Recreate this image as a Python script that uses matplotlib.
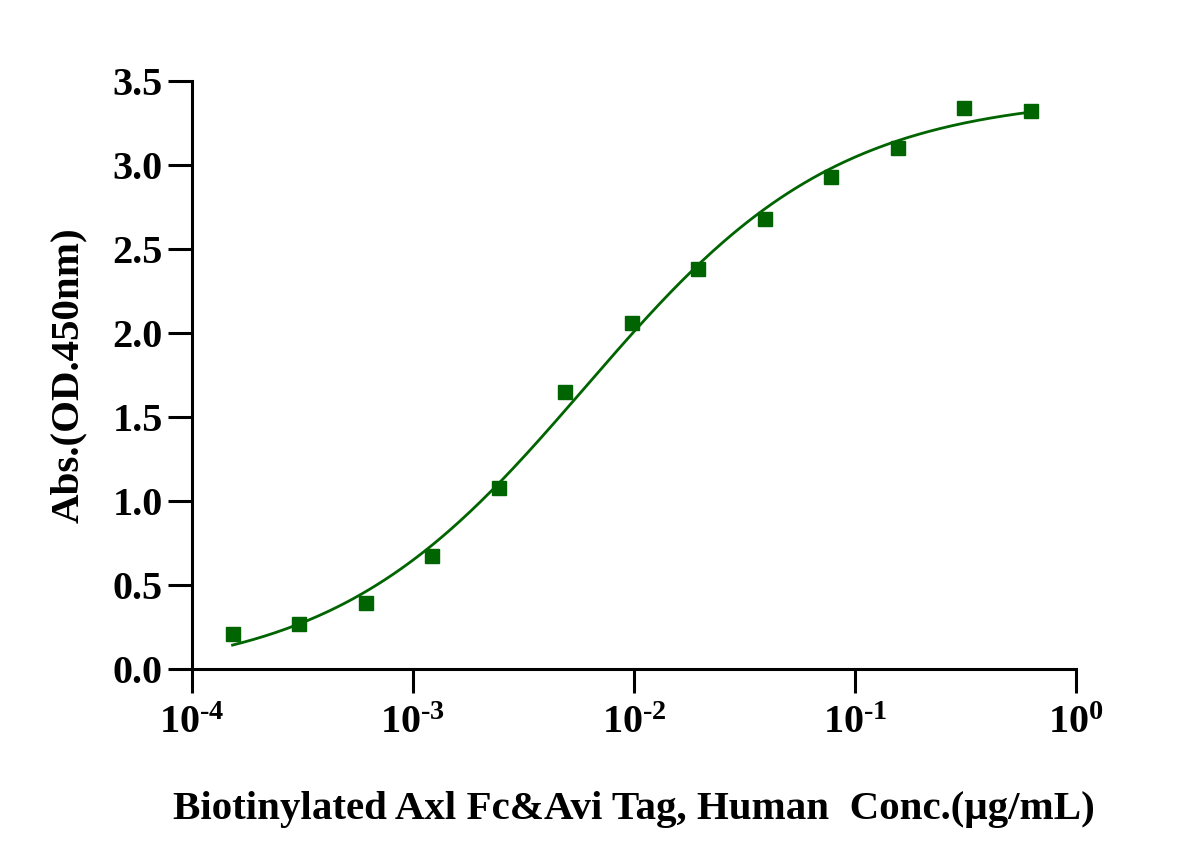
import matplotlib
matplotlib.use("Agg")
import matplotlib.pyplot as plt
import numpy as np
from matplotlib.ticker import FixedLocator, FuncFormatter, NullLocator

# concentrations (ug/mL), 2-fold dilution series
conc = [0.0001526, 0.0003052, 0.0006104, 0.001221, 0.002441, 0.004883,
        0.009766, 0.01953, 0.03906, 0.07813, 0.1563, 0.3125, 0.625]
od450 = [0.21, 0.27, 0.39, 0.67, 1.08, 1.65, 2.06, 2.38, 2.68, 2.93, 3.10, 3.34, 3.32]

x_ticks = [1e-4, 1e-3, 1e-2, 1e-1, 1e0]
y_ticks = [0.0, 0.5, 1.0, 1.5, 2.0, 2.5, 3.0, 3.5]

GREEN = "#006400"


def fit_4pl(x, y):
    # grid over log EC50 and hill slope, bottom/top solved by linear least squares
    lx = np.log10(x)
    best = None
    for log_ec50 in np.linspace(-4, 0, 401):
        for hill in np.linspace(0.3, 2.0, 171):
            g = 1.0 / (1.0 + 10 ** ((log_ec50 - lx) * hill))
            A = np.column_stack([1 - g, g])
            coef, *_ = np.linalg.lstsq(A, y, rcond=None)
            sse = float(np.sum((A @ coef - y) ** 2))
            if best is None or sse < best[0]:
                best = (sse, coef[0], coef[1], log_ec50, hill)
    return best[1:]


def four_pl(x, bottom, top, log_ec50, hill):
    return bottom + (top - bottom) / (1.0 + 10 ** ((log_ec50 - np.log10(x)) * hill))


x = np.asarray(conc)
y = np.asarray(od450)
params = fit_4pl(x, y)
xs = np.logspace(np.log10(x.min()), np.log10(x.max()), 300)

plt.rcParams["font.family"] = ["Liberation Serif", "DejaVu Serif"]
plt.rcParams["font.weight"] = "bold"
plt.rcParams["mathtext.fontset"] = "custom"
plt.rcParams["mathtext.rm"] = "Liberation Serif:bold"
plt.rcParams["mathtext.bf"] = "Liberation Serif:bold"
plt.rcParams["mathtext.it"] = "Liberation Serif:bold"

fig = plt.figure(figsize=(12, 8.65), dpi=100)
ax = fig.add_axes([0.16, 0.2266, 0.7367, 0.6798])

ax.plot(xs, four_pl(xs, *params), color=GREEN, linewidth=2.0, zorder=2)
ax.plot(x, y, linestyle="none", marker="s", markersize=9.5, color=GREEN, zorder=3)

ax.set_xscale("log")
ax.set_xlim(1e-4, 1e0)
ax.set_ylim(0, 3.5)
ax.xaxis.set_major_locator(FixedLocator(x_ticks))
ax.xaxis.set_minor_locator(NullLocator())
ax.xaxis.set_major_formatter(
    FuncFormatter(lambda v, p: r"$10^{\text{%s}}$" % ("-%d" % -round(np.log10(v)) if v < 1 else "0")))
ax.set_yticks(y_ticks)
ax.yaxis.set_major_formatter(FuncFormatter(lambda v, p: f"{v:.1f}"))

for side in ("top", "right"):
    ax.spines[side].set_visible(False)
for side in ("left", "bottom"):
    ax.spines[side].set_linewidth(2.2)
ax.tick_params(axis="both", direction="out", length=17, width=2.2)
ax.tick_params(axis="x", pad=9, labelsize=29)
ax.tick_params(axis="y", pad=4, labelsize=29)

ax.set_xlabel("Biotinylated Axl Fc&Avi Tag, Human  Conc.(\u03bcg/mL)", fontsize=29.5,
              fontweight="bold", labelpad=35)
ax.set_ylabel("Abs.(OD.450nm)", fontsize=29.5, fontweight="bold", labelpad=18)

fig.savefig("out.png", dpi=100)
